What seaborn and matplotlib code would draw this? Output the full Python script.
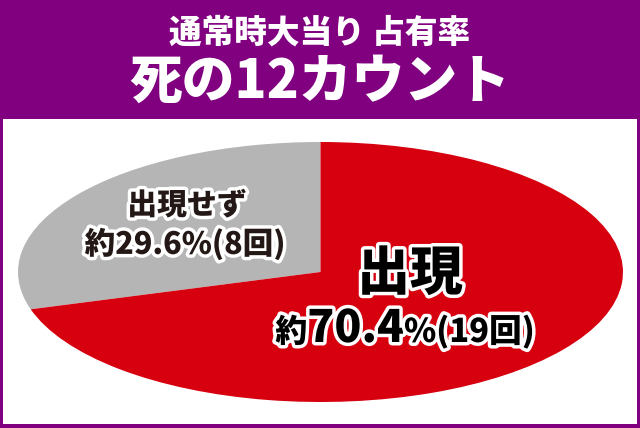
import matplotlib.pyplot as plt
import matplotlib.patheffects as pe
from matplotlib.patches import Rectangle
import seaborn as sns

# data
labels = ["出現せず", "出現"]
counts = [8, 19]
percents = [29.6, 70.4]
colors = ["#b5b5b6", "#d7000f"]
title1 = "通常時大当り 占有率"
title2 = "死の12カウント"
purple = "#800080"

sns.set_style("white")
plt.rcParams['font.family'] = ['Noto Sans CJK JP', 'DejaVu Sans']

W, H = 640, 428
fig = plt.figure(figsize=(W / 100, H / 100), dpi=100, facecolor=purple)

# white panel
fig.patches.append(Rectangle((3 / W, 4 / H), 634 / W, (H - 119 - 4) / H,
                             transform=fig.transFigure, facecolor="white",
                             edgecolor="none", zorder=-5))

fig.text(0.5, 1 - 33 / H, title1, color="white", fontsize=23.5, fontweight="heavy",
         ha="center", va="center")
fig.text(0.5, 1 - 82 / H, title2, color="white", fontsize=38, fontweight="heavy",
         ha="center", va="center")

# stretched pie
ax = fig.add_axes([18 / W, (H - 402) / H, 605 / W, 260 / H], zorder=2)
ax.pie(counts, colors=colors, startangle=90, counterclock=True,
       wedgeprops=dict(linewidth=0))
ax.set_aspect("auto")
ax.set_xlim(-1, 1)
ax.set_ylim(-1, 1)
ax.axis("off")

outline = [pe.withStroke(linewidth=5, foreground="white")]

fig.text(187 / W, 1 - 205 / H, labels[0], color="#231815", fontsize=21.5,
         fontweight="heavy", ha="center", va="center", path_effects=outline, zorder=5)
fig.text(185 / W, 1 - 244 / H, f"約{percents[0]}%({counts[0]}回)", color="#231815",
         fontsize=22, fontweight="heavy", ha="center", va="center", path_effects=outline,
         zorder=5)

fig.text(410 / W, 1 - 274 / H, labels[1], color="black", fontsize=38,
         fontweight="heavy", ha="center", va="center", path_effects=outline, zorder=5)

# mixed size percentage label for the red slice
parts = [("約", 23), (f"{percents[1]}", 32), (f"%({counts[1]}回)", 23.5)]
renderer = fig.canvas.get_renderer()
texts = []
for s, fs in parts:
    t = fig.text(0, 1 - 342 / H, s, color="black", fontsize=fs, fontweight="heavy",
                 ha="left", va="baseline", path_effects=outline, zorder=5)
    texts.append(t)
widths = [t.get_window_extent(renderer).width for t in texts]
x = 405 - sum(widths) / 2
for t, w in zip(texts, widths):
    t.set_x(x / W)
    x += w

fig.savefig("out.png", dpi=100, facecolor=purple)
